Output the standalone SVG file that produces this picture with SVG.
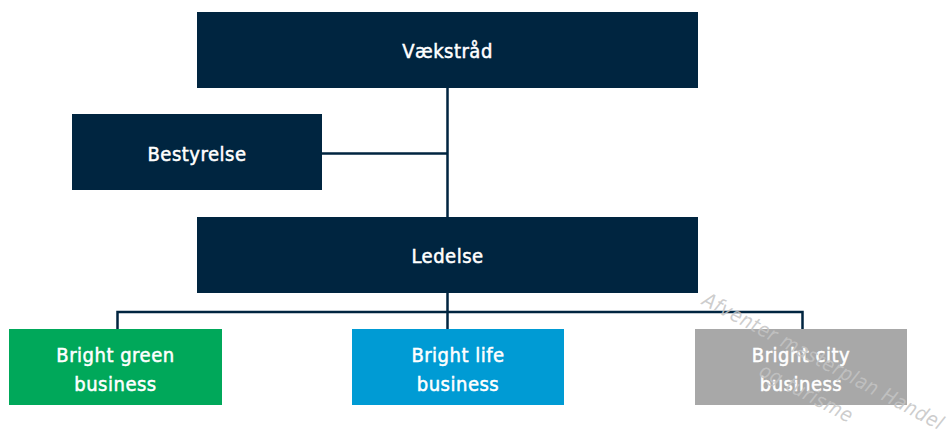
<svg xmlns="http://www.w3.org/2000/svg" width="952" height="438" viewBox="0 0 952 438">
<style>
.t{font-family:"DejaVu Sans Condensed","DejaVu Sans",sans-serif;font-size:20px;fill:#ffffff;stroke:#ffffff;stroke-width:0.5px;text-anchor:middle;letter-spacing:0.5px}
.navy{fill:#002540}
.ln{stroke:#002540;stroke-width:2.5;fill:none}
.wm{font-family:"DejaVu Sans Condensed","DejaVu Sans",sans-serif;font-style:italic;font-size:20px;fill:#c4c4c4;fill-opacity:0.85;text-anchor:middle;letter-spacing:0.6px}
</style>
<rect width="952" height="438" fill="#ffffff"/>
<g id="connectors">
<path class="ln" d="M447.5 88 V217 M322 153.5 H447.5 M447.5 293 V329 M117.5 329 V312 H802.5 V329"/>
</g>
<g id="vaekstraad"><rect class="navy" x="197" y="12" width="501" height="76"/><text class="t" x="447.5" y="58">Vækstråd</text></g>
<g id="bestyrelse"><rect class="navy" x="72" y="114" width="250" height="76"/><text class="t" x="197" y="161">Bestyrelse</text></g>
<g id="ledelse"><rect class="navy" x="197" y="217" width="501" height="76"/><text class="t" x="447.5" y="263">Ledelse</text></g>
<g id="green"><rect fill="#00a85a" x="9" y="329" width="213" height="76"/><text class="t" x="115.5" y="362">Bright green</text><text class="t" x="115.5" y="391">business</text></g>
<g id="life"><rect fill="#009bd4" x="352" y="329" width="212" height="76"/><text class="t" x="458" y="362">Bright life</text><text class="t" x="458" y="391">business</text></g>
<g id="city"><rect fill="#a8a8a8" x="695" y="329" width="212" height="76"/><text class="t" x="801" y="362">Bright city</text><text class="t" x="801" y="391">business</text></g>
<g id="watermark" transform="translate(823 362) rotate(28)">
<text class="wm" x="0" y="6">Afventer masterplan Handel</text>
<text class="wm" x="0" y="42">og turisme</text>
</g>
</svg>
